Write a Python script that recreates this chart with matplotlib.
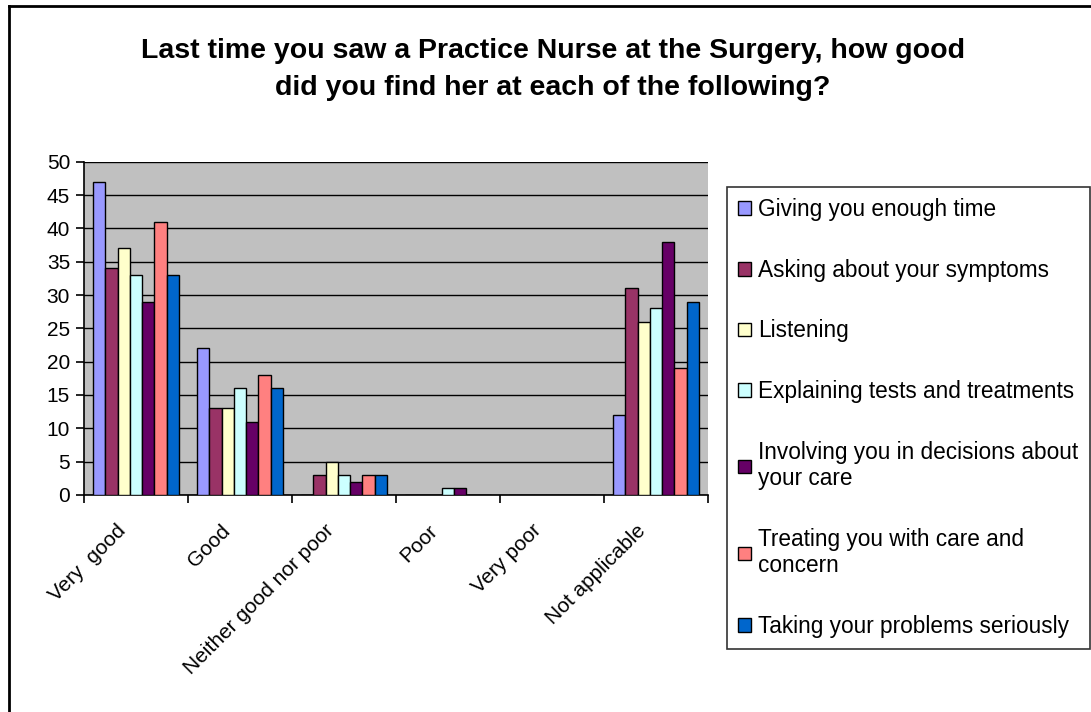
import matplotlib.pyplot as plt
import matplotlib.transforms as mtransforms
import numpy as np
from matplotlib.lines import Line2D

plt.rcParams['font.family'] = ['Liberation Sans', 'DejaVu Sans']

categories = ["Very  good", "Good", "Neither good nor poor", "Poor", "Very poor", "Not applicable"]
series_names = [
    "Giving you enough time",
    "Asking about your symptoms",
    "Listening",
    "Explaining tests and treatments",
    "Involving you in decisions about\nyour care",
    "Treating you with care and\nconcern",
    "Taking your problems seriously",
]
giving = [47, 22, 0, 0, 0, 12]
asking = [34, 13, 3, 0, 0, 31]
listening = [37, 13, 5, 0, 0, 26]
explaining = [33, 16, 3, 1, 0, 28]
involving = [29, 11, 2, 1, 0, 38]
treating = [41, 18, 3, 0, 0, 19]
taking = [33, 16, 3, 0, 0, 29]
series = [giving, asking, listening, explaining, involving, treating, taking]
colors = ["#9999FF", "#993366", "#FFFFCC", "#CCFFFF", "#660066", "#FF8080", "#0066CC"]

fig = plt.figure(figsize=(10.91, 7.12), dpi=100)
ax = fig.add_axes([0.077, 0.305, 0.572, 0.4677])
ax.set_facecolor("#C0C0C0")

x = np.arange(len(categories))
bw = 0.118
for i, (vals, c, name) in enumerate(zip(series, colors, series_names)):
    ax.bar(x + (i - 3) * bw, vals, width=bw, color=c, edgecolor="black",
           linewidth=1.0, label=name, zorder=3)

ax.set_ylim(0, 50)
ax.set_xlim(-0.5, len(categories) - 0.5)
ax.set_yticks(range(0, 51, 5))
ax.yaxis.grid(True, color="black", linewidth=1.0, zorder=0)
ax.set_axisbelow(True)
ax.set_xticks(np.arange(-0.5, len(categories), 1.0))
ax.set_xticklabels([])
ax.set_xticks(x, minor=True)
ax.set_xticklabels(categories, minor=True, rotation=45, ha="right",
                   rotation_mode="anchor", fontsize=15)
ax.tick_params(axis="x", which="minor", length=0, pad=8)
ax.tick_params(axis="x", which="major", length=6, width=1.2, direction="out")
ax.tick_params(axis="y", length=6, width=1.2, labelsize=15, pad=4)
# nudge rotated category labels down-left like the original
shift = mtransforms.ScaledTranslation(-0.2, -0.15, fig.dpi_scale_trans)
for lab in ax.get_xticklabels(minor=True):
    lab.set_transform(lab.get_transform() + shift)
for s in ax.spines.values():
    s.set_linewidth(1.2)
ax.spines["top"].set_visible(False)
ax.spines["right"].set_visible(False)

fig.text(0.507, 0.903, "Last time you saw a Practice Nurse at the Surgery, how good\n"
         "did you find her at each of the following?",
         ha="center", va="center", fontsize=20.5, fontweight="bold", linespacing=1.55)

leg = fig.legend(loc="upper left", bbox_to_anchor=(0.6664, 0.7374), fontsize=16.3,
                 frameon=True, fancybox=False, edgecolor="black",
                 handlelength=0.55, handleheight=0.55, handletextpad=0.32,
                 labelspacing=1.66, borderpad=0.5, borderaxespad=0)
leg.get_frame().set_linewidth(1.2)

# outer chart border (left and top only visible)
fig.add_artist(Line2D([0.0078, 0.0078], [0.0, 0.992], color="black", linewidth=2,
                      transform=fig.transFigure))
fig.add_artist(Line2D([0.0078, 1.0], [0.992, 0.992], color="black", linewidth=2,
                      transform=fig.transFigure))

fig.savefig("out.png", dpi=100, facecolor="white")
